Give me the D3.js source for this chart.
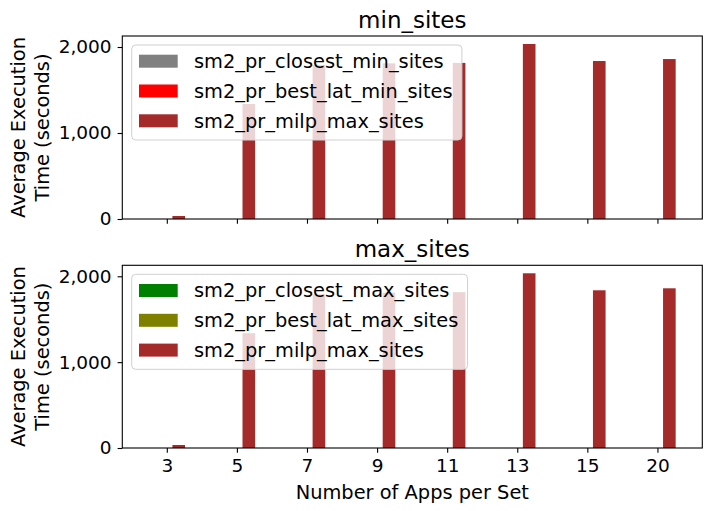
<!DOCTYPE html>
<html>
<head>
<meta charset="utf-8">
<script src="https://cdn.jsdelivr.net/npm/d3@7/dist/d3.min.js"></script>
<style>
  html, body { margin: 0; padding: 0; background: #fff; }
  svg { display: block; font-family: "DejaVu Sans", sans-serif; }
</style>
</head>
<body>
<svg id="chart" width="711" height="511"></svg>
<script>
// ---- data ----
const categories = ["3", "5", "7", "9", "11", "13", "15", "20"];
const closestMin = [0, 0, 0, 0, 0, 0, 0, 0];
const bestLatMin = [0, 0, 0, 0, 0, 0, 0, 0];
const milpMin = [35, 1337, 1790, 1810, 1815, 2035, 1837, 1860];
const closestMax = [0, 0, 0, 0, 0, 0, 0, 0];
const bestLatMax = [0, 0, 0, 0, 0, 0, 0, 0];
const milpMax = [35, 1337, 1790, 1810, 1815, 2035, 1837, 1860];
const yTicks = [0, 1000, 2000];

const panels = [
  { title: "min_sites", top: 36, bottom: 219, showX: false,
    series: [
      { name: "sm2_pr_closest_min_sites", color: "#808080", values: closestMin },
      { name: "sm2_pr_best_lat_min_sites", color: "#ff0000", values: bestLatMin },
      { name: "sm2_pr_milp_max_sites", color: "#a52a2a", values: milpMin }
    ] },
  { title: "max_sites", top: 265.3, bottom: 448, showX: true,
    series: [
      { name: "sm2_pr_closest_max_sites", color: "#008000", values: closestMax },
      { name: "sm2_pr_best_lat_max_sites", color: "#808000", values: bestLatMax },
      { name: "sm2_pr_milp_max_sites", color: "#a52a2a", values: milpMax }
    ] }
];

const left = 122.3, right = 702.3;
const barW = 0.18;            // in category units
const offsets = [-0.28, -0.10, 0.08]; // left-edge offset from tick, per series

const svg = d3.select("#chart");
const x = d3.scaleLinear().domain([-0.635, 7.64]).range([left, right]);

panels.forEach(p => {
  const y = d3.scaleLinear().domain([0, 2128]).range([p.bottom, p.top]);
  const g = svg.append("g");

  // bars
  p.series.forEach((s, si) => {
    g.append("g").selectAll("rect").data(s.values).join("rect")
      .attr("x", (d, i) => x(i + offsets[si]))
      .attr("width", x(barW) - x(0))
      .attr("y", d => y(d))
      .attr("height", d => y(0) - y(d))
      .attr("fill", s.color);
  });

  // y axis
  const ya = g.append("g").attr("transform", `translate(${left},0)`)
    .call(d3.axisLeft(y).tickValues(yTicks).tickFormat(d3.format(",")).tickSize(4.7).tickPadding(6));
  ya.select(".domain").remove();
  ya.selectAll("text").attr("font-size", 18.5).attr("fill", "#000").attr("font-family", "DejaVu Sans");
  ya.selectAll("line").attr("stroke", "#000").attr("stroke-width", 1.1);

  // x axis
  const xa = g.append("g").attr("transform", `translate(0,${p.bottom})`)
    .call(d3.axisBottom(x).tickValues(d3.range(categories.length))
      .tickFormat(i => p.showX ? categories[i] : "").tickSize(4.7).tickPadding(6));
  xa.select(".domain").remove();
  xa.selectAll("text").attr("font-size", 18.5).attr("fill", "#000").attr("font-family", "DejaVu Sans");
  xa.selectAll("line").attr("stroke", "#000").attr("stroke-width", 1.1);

  // frame
  g.append("rect").attr("x", left).attr("y", p.top)
    .attr("width", right - left).attr("height", p.bottom - p.top)
    .attr("fill", "none").attr("stroke", "#000").attr("stroke-width", 1.1);

  // title
  g.append("text").attr("x", (left + right) / 2).attr("y", p.top - 8)
    .attr("text-anchor", "middle").attr("font-size", 23).attr("fill", "#000")
    .text(p.title);

  // y label
  const cy = (p.top + p.bottom) / 2;
  const yl = g.append("text").attr("transform", `translate(0,${cy}) rotate(-90)`)
    .attr("text-anchor", "middle").attr("font-size", 19.4).attr("fill", "#000");
  yl.append("tspan").attr("x", 0).attr("y", 25).text("Average Execution");
  yl.append("tspan").attr("x", 0).attr("y", 48.5).text("Time (seconds)");

  // legend
  const lg = g.append("g").attr("transform", `translate(131.7,${p.top + 9})`);
  const box = lg.append("rect").attr("x", 0).attr("y", 0).attr("rx", 4).attr("ry", 4)
    .attr("height", 95).attr("fill", "#fff").attr("fill-opacity", 0.8)
    .attr("stroke", "#d0d0d0").attr("stroke-width", 1);
  let maxW = 0;
  p.series.forEach((s, si) => {
    const cyL = 16.2 + si * 29.8;
    lg.append("rect").attr("x", 7.3).attr("y", cyL - 6.5).attr("width", 38.7).attr("height", 13)
      .attr("fill", s.color);
    const t = lg.append("text").attr("x", 62.3).attr("y", cyL + 6.9)
      .attr("font-size", 19.4).attr("fill", "#000").text(s.name);
    maxW = Math.max(maxW, t.node().getComputedTextLength());
  });
  box.attr("width", 62.3 + maxW + 9.3);
});

// x label
svg.append("text").attr("x", (left + right) / 2).attr("y", 498.5)
  .attr("text-anchor", "middle").attr("font-size", 19.4).attr("fill", "#000")
  .text("Number of Apps per Set");
</script>
</body>
</html>
